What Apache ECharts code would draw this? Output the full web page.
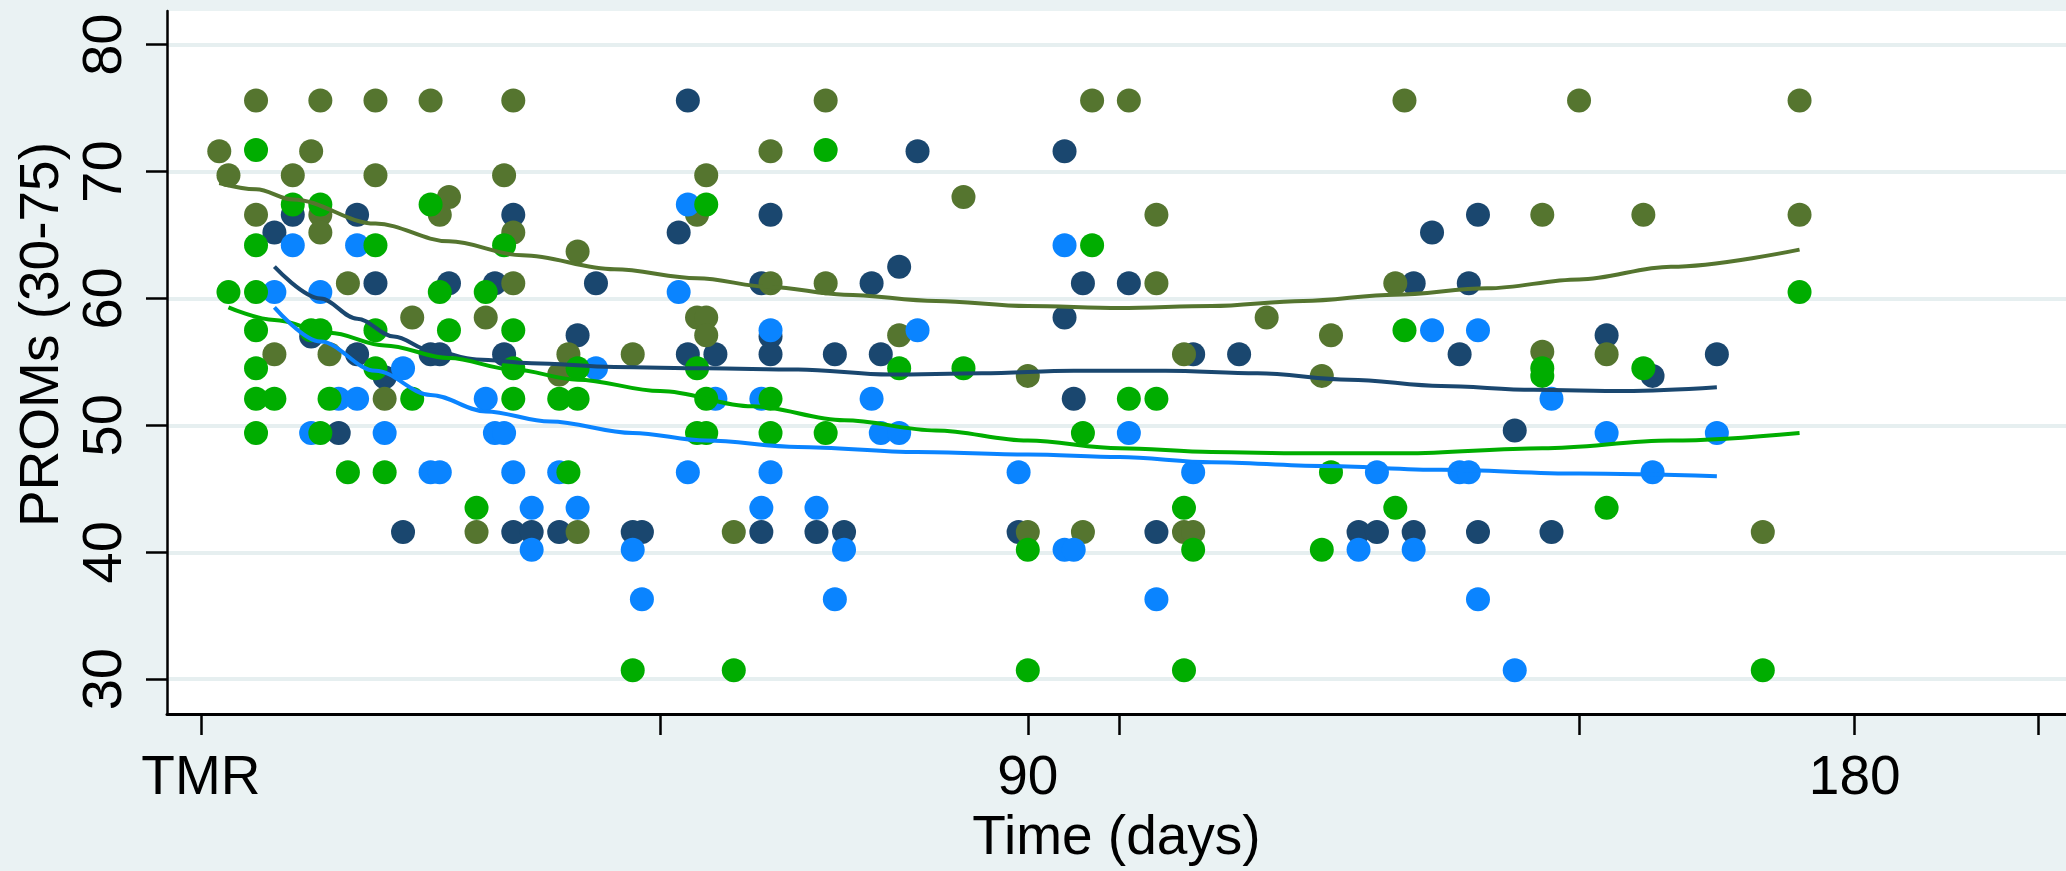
<!DOCTYPE html>
<html>
<head>
<meta charset="utf-8">
<script src="https://cdn.jsdelivr.net/npm/echarts@6/dist/echarts.min.js"></script>
<style>
html,body{margin:0;padding:0;background:#eaf2f3;}
#chart{width:2066px;height:871px;}
</style>
</head>
<body>
<div id="chart"></div>
<script>
// ---- DATA (days since TMR, PROM score) ----
const xTickValues = [0, 50, 90, 100, 150, 180, 200];
const xLabelValues = [0, 90, 180];
const yTickValues = [30, 40, 50, 60, 70, 80];

const navyPoints = [
  [10,66.6],[8,65.2],[17,66.6],[34,66.6],[19,61.2],[27,61.2],[32,61.2],[12,57.0],[17,55.6],[25,55.6],
  [26,55.6],[33,55.6],[20,53.8],[15,49.4],[22,41.6],[34,41.6],[36,41.6],
  [53,75.6],[78,71.6],[62,66.6],[52,65.2],[76,62.5],[43,61.2],[61,61.2],[73,61.2],[41,57.1],[62,57.0],
  [53,55.6],[56,55.6],[62,55.6],[69,55.6],[74,55.6],[39,41.6],[47,41.6],[48,41.6],[61,41.6],[67,41.6],[70,41.6],
  [94,71.6],[96,61.2],[101,61.2],[94,58.5],[108,55.6],[113,55.6],[95,52.1],[89,41.6],[104,41.6],[126,41.6],[128,41.6],
  [139,66.6],[134,65.2],[132,61.2],[138,61.2],[153,57.1],[137,55.6],[165,55.6],[158,53.9],[143,49.6],[132,41.6],[139,41.6],[147,41.6]
];
const olivePoints = [
  [6,75.6],[13,75.6],[19,75.6],[25,75.6],[34,75.6],[2,71.6],[12,71.6],[3,69.7],[10,69.7],[19,69.7],[33,69.7],
  [27,68.0],[6,66.6],[13,66.6],[26,66.6],[13,65.2],[34,65.2],[16,61.2],[34,61.2],[23,58.5],[31,58.5],[8,55.6],
  [14,55.6],[20,52.1],[30,41.6],[40,55.6],[39,54.0],
  [68,75.6],[62,71.6],[55,69.7],[54,66.6],[41,63.7],[62,61.2],[68,61.2],[54,58.5],[55,58.5],[55,57.1],[76,57.1],
  [47,55.6],[41,41.6],[58,41.6],
  [97,75.6],[101,75.6],[83,68.0],[104,66.6],[104,61.2],[116,58.5],[123,57.1],[107,55.6],[90,53.9],[122,53.9],
  [90,41.6],[96,41.6],[107,41.6],[108,41.6],
  [131,75.6],[150,75.6],[174,75.6],[146,66.6],[157,66.6],[174,66.6],[130,61.2],[146,55.8],[153,55.6],[170,41.6]
];
const bluePoints = [
  [10,64.2],[17,64.2],[8,60.5],[13,60.5],[22,54.5],[15,52.1],[17,52.1],[31,52.1],[12,49.4],[20,49.4],[32,49.4],
  [33,49.4],[25,46.3],[26,46.3],[34,46.3],[36,43.5],[36,40.2],[39,46.3],
  [53,67.4],[52,60.5],[62,57.5],[78,57.5],[43,54.5],[56,52.1],[61,52.1],[73,52.1],[74,49.4],[76,49.4],[53,46.3],
  [62,46.3],[41,43.5],[61,43.5],[67,43.5],[47,40.2],[70,40.2],[48,36.3],[69,36.3],
  [94,64.2],[101,49.4],[89,46.3],[108,46.3],[128,46.3],[94,40.2],[95,40.2],[126,40.2],[104,36.3],
  [134,57.5],[139,57.5],[147,52.1],[153,49.4],[165,49.4],[137,46.3],[138,46.3],[158,46.3],[132,40.2],[139,36.3],[143,30.7]
];
const greenPoints = [
  [6,71.7],[10,67.4],[13,67.4],[25,67.4],[6,64.2],[19,64.2],[33,64.2],[3,60.5],[6,60.5],[26,60.5],[31,60.5],
  [6,57.5],[12,57.5],[13,57.5],[19,57.5],[27,57.5],[34,57.5],[6,54.5],[19,54.5],[34,54.5],[6,52.1],[8,52.1],
  [14,52.1],[23,52.1],[34,52.1],[6,49.4],[13,49.4],[16,46.3],[20,46.3],[30,43.5],[39,52.1],[40,46.3],
  [68,71.7],[55,67.4],[41,54.5],[54,54.5],[76,54.5],[41,52.1],[55,52.1],[62,52.1],[54,49.4],[55,49.4],[62,49.4],
  [68,49.4],[47,30.7],[58,30.7],
  [97,64.2],[83,54.5],[101,52.1],[104,52.1],[96,49.4],[123,46.3],[107,43.5],[90,40.2],[108,40.2],[122,40.2],[90,30.7],[107,30.7],
  [174,60.5],[131,57.5],[146,54.5],[146,53.9],[157,54.5],[130,43.5],[153,43.5],[170,30.7]
];

// lowess smoother curves
const oliveLine = [[2,69.1],[6,68.6],[10,67.8],[19,65.9],[27,64.5],[35,63.4],[45,62.3],[54,61.6],[62,60.9],[70,60.3],
  [80,59.8],[90,59.4],[100,59.25],[110,59.4],[120,59.8],[130,60.3],[140,60.8],[150,61.5],[160,62.5],[174,63.85]];
const navyLine = [[8,62.5],[13,60.0],[17,58.4],[21,57.0],[25,55.9],[30,55.2],[36,54.9],[45,54.6],[55,54.5],[65,54.4],
  [75,54.0],[85,54.1],[95,54.3],[105,54.3],[115,54.1],[125,53.6],[135,53.1],[145,52.8],[155,52.7],[165,53.0]];
const greenLine = [[3,59.3],[8,58.3],[14,57.3],[20,56.3],[27,55.3],[34,54.4],[41,53.6],[50,52.7],[60,51.5],[70,50.4],
  [80,49.6],[90,48.8],[100,48.2],[110,47.9],[120,47.8],[131,47.8],[146,48.2],[160,48.8],[174,49.4]];
const blueLine = [[8,59.3],[13,56.6],[19,54.3],[25,52.4],[31,51.1],[38,50.3],[47,49.4],[55,48.8],[65,48.3],[78,47.9],
  [90,47.7],[100,47.5],[110,47.1],[122,46.8],[135,46.5],[150,46.2],[165,46.0]];

// ---- CHART ----
const C = {navy:'#1a476f', olive:'#55752f', blue:'#0a84ff', green:'#00ad00'};
const FONT = 'Liberation Sans, Arial, sans-serif';
const chart = echarts.init(document.getElementById('chart'), null, {renderer:'canvas'});

function scatter(data, color, z){
  return {type:'scatter', data, symbol:'circle', symbolSize:24, z,
    itemStyle:{color, opacity:1}, emphasis:{disabled:true}, silent:true, animation:false};
}
function line(data, color, z){
  return {type:'line', data, showSymbol:false, symbol:'none', smooth:0.35, smoothMonotone:'x', z,
    lineStyle:{color, width:4}, silent:true, animation:false};
}

chart.setOption({
  backgroundColor:'#eaf2f3',
  animation:false,
  grid:{left:167, top:11, right:0, bottom:149, show:true, backgroundColor:'#ffffff', borderWidth:0, containLabel:false},
  xAxis:{
    type:'value', min:-3.69, max:203,
    name:'Time (days)', nameLocation:'middle', nameGap:88,
    nameTextStyle:{color:'#000', fontSize:55, fontFamily:FONT},
    axisLine:{show:true, onZero:false, lineStyle:{color:'#000', width:3}},
    axisTick:{show:true, length:21, lineStyle:{color:'#000', width:2.5}, customValues:xTickValues},
    axisLabel:{color:'#000', fontSize:55, fontFamily:FONT, margin:37, customValues:xLabelValues,
      formatter:v => v === 0 ? 'TMR' : String(v)},
    splitLine:{show:false}
  },
  yAxis:{
    type:'value', min:27.25, max:82.65,
    name:'PROMs (30-75)', nameLocation:'middle', nameGap:94, nameRotate:90,
    nameTextStyle:{color:'#000', fontSize:55, fontFamily:FONT, padding:[0,0,0,56]},
    axisLine:{show:true, onZero:false, lineStyle:{color:'#000', width:2.5}},
    axisTick:{show:true, length:21, lineStyle:{color:'#000', width:2.5}, customValues:yTickValues},
    axisLabel:{color:'#000', fontSize:56, fontFamily:FONT, margin:33, rotate:90, customValues:yTickValues},
    splitLine:{show:true, lineStyle:{color:'#e6eff0', width:4}}
  },
  series:[
    scatter(navyPoints, C.navy, 2),
    scatter(olivePoints, C.olive, 3),
    scatter(bluePoints, C.blue, 4),
    scatter(greenPoints, C.green, 5),
    line(oliveLine, C.olive, 6),
    line(navyLine, C.navy, 6),
    line(greenLine, C.green, 6),
    line(blueLine, C.blue, 6)
  ]
});
</script>
</body>
</html>
